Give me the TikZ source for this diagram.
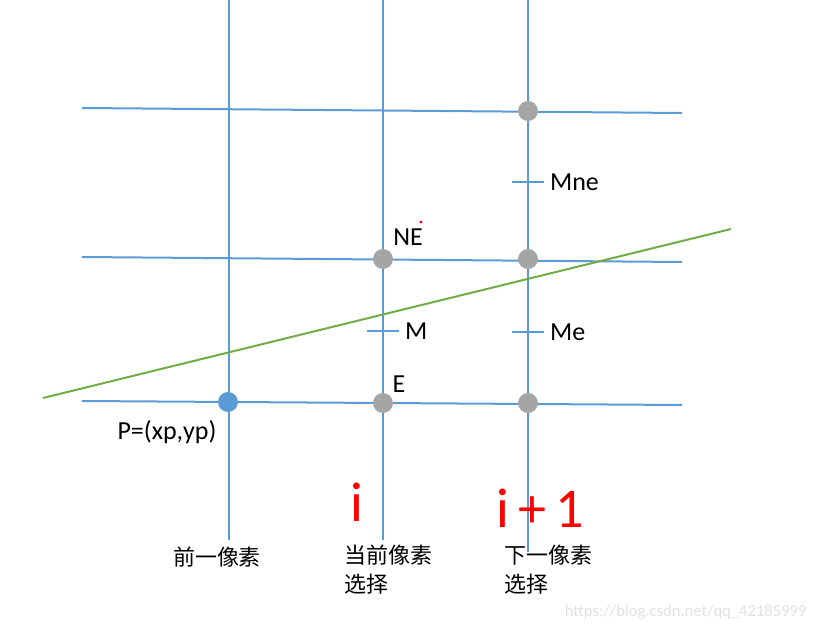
\documentclass[tikz,border=0pt]{standalone}
\usepackage{fontspec}
\setmainfont{Carlito}
\newfontfamily\cjk{Noto Sans CJK SC}
\begin{document}
\begin{tikzpicture}[x=0.5pt,y=-0.5pt,
  grid/.style={color={rgb,255:red,91;green,155;blue,213},line width=1pt},
  dot/.style={circle,fill={rgb,255:red,165;green,165;blue,165},inner sep=0pt,minimum size=10pt},
  lbl/.style={font=\fontsize{13}{15}\selectfont},
  zh/.style={font=\cjk\fontsize{11}{14.5}\selectfont,align=left,inner sep=0pt},
  hand/.style={text=red,font=\fontsize{28}{28}\selectfont}]
\useasboundingbox (0,0) rectangle (816,631);
% grid lines
\foreach \x/\e in {229/540,383/540,528/552}
{
    \draw[grid](\x,0)--(\x,\e);
}
\foreach \a/\b in {108/113,257/262,401/405}
{
    \draw[grid](82,\a)--(682,\b);
}
% the line being drawn
\coordinate (s) at (43,398);
\coordinate (t) at (731,229);
\draw[color={rgb,255:red,112;green,173;blue,71},line width=1pt](s)--(t);
% pixels
\node[dot] (ne2) at (528,111){};
\node[dot] (ne) at (383,259){};
\node[dot] (ne1) at (528,259){};
\node[dot] (e) at (383,403){};
\node[dot] (e1) at (528,403){};
\node[dot,fill={rgb,255:red,91;green,155;blue,213}] (p) at (228,402){};
% midpoints
\foreach \x/\y/\n in {383/331/m,528/332/me,528/182/mne}
{
    \coordinate (\n) at (\x,\y);
    \draw[grid]([xshift=-8pt]\n)--([xshift=8pt]\n);
}
\node[lbl,right] at ([xshift=7.5pt]m){M};
\node[lbl,right] at ([xshift=7.5pt]me){Me};
\node[lbl,right] at ([xshift=7.5pt]mne){Mne};
\node[lbl] (nel) at (408,237){NE};
\fill[red] (421,222) circle (0.8pt);
\node[lbl] (el) at (399,384){E};
\node[lbl] (pl) at (167,432){P=(xp,yp)};
% columns
\node[zh] (c0) at (217,557){前一像素};
\node[zh,anchor=north west] (c1) at (344,545){当前像素\\选择};
\node[zh,anchor=north west] (c2) at (504,545){下一像素\\选择};
\node[hand] (i) at (357,502){i};
\node[hand] (i1) at (540,508){i\,+\,1};
\node[font=\fontsize{8.3}{10}\selectfont,text={rgb,255:red,225;green,225;blue,225},anchor=east,inner sep=0pt] (w) at (807,612){https://blog.csdn.net/qq\_42185999};
\end{tikzpicture}
\end{document}
